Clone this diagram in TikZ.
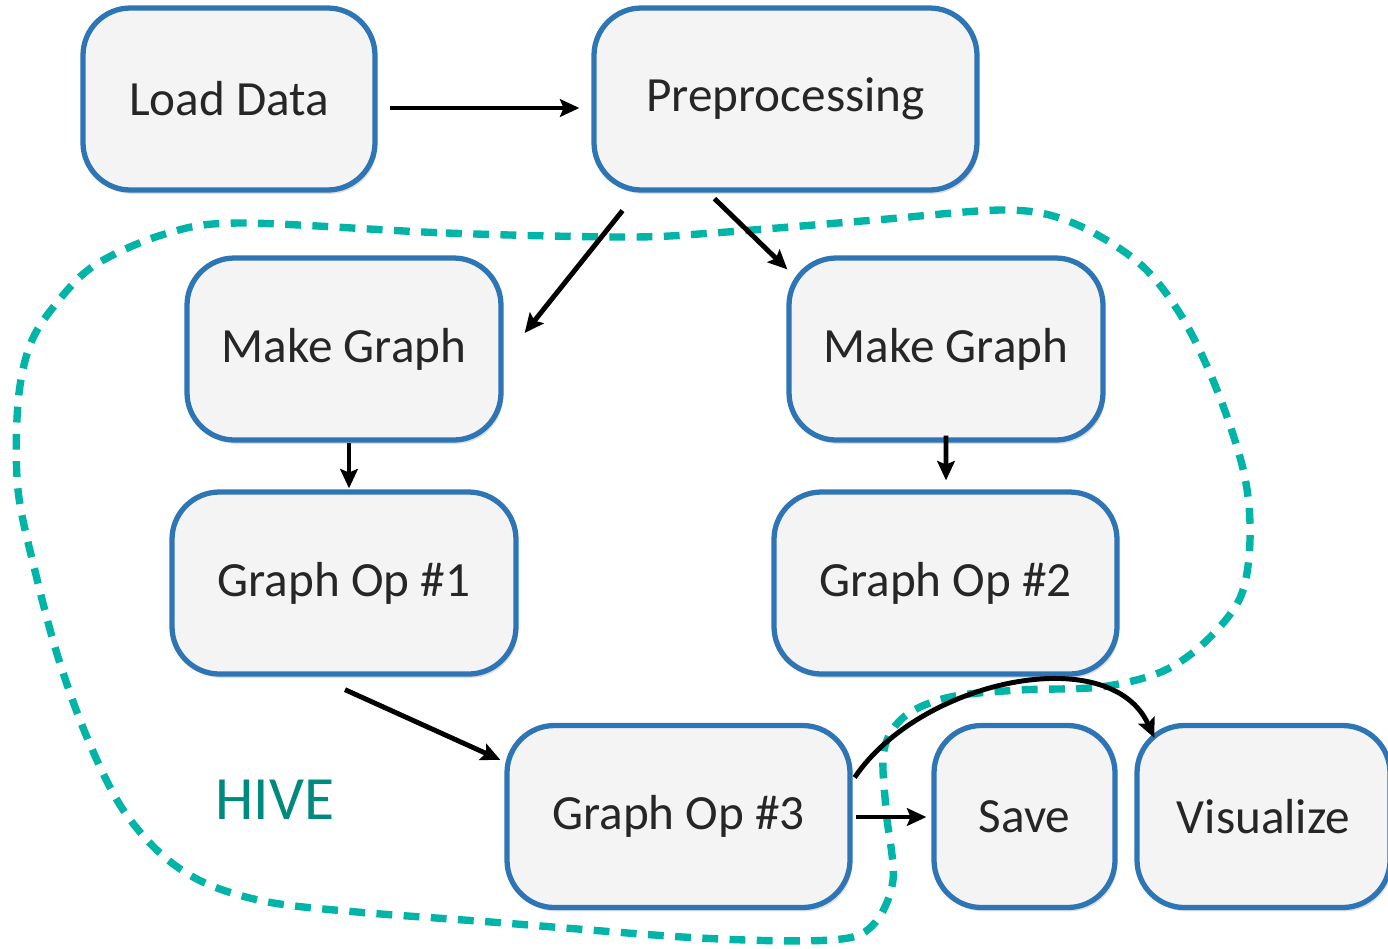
\documentclass[tikz,border=0pt]{standalone}
\usepackage{fontspec}
\setmainfont{Carlito}
\usetikzlibrary{shadows,arrows.meta,calc}
\definecolor{boxblue}{HTML}{2E75B6}
\definecolor{boxfill}{HTML}{F4F4F4}
\definecolor{hiveteal}{HTML}{00B4A8}
\definecolor{hivetext}{HTML}{00897E}
\definecolor{txt}{HTML}{262626}
\begin{document}
\begin{tikzpicture}[x=0.02cm,y=-0.02cm,
  stage/.style={draw=boxblue, line width=3pt, fill=boxfill, rounded corners=27pt,
    inner sep=0pt, minimum height=182\pgfunitx, text=txt,
    font=\fontsize{28}{34}\selectfont,
    drop shadow={opacity=0.25, shadow xshift=1.2pt, shadow yshift=-2.2pt}},
  arr/.style={draw=black, line width=2.8pt, -{Stealth[length=11pt,width=10pt,inset=2pt]}},
  hive/.style={draw=hiveteal, line width=4.2pt, dash pattern=on 9pt off 6.5pt}]
\newdimen\pgfunitx \pgfunitx=0.02cm
\useasboundingbox (0,0) rectangle (1388,948);
% HIVE region
\draw[hive] plot[smooth cycle, tension=0.55] coordinates {
 (241,223) (446,233) (625,237) (713,233) (875,220) (1007,210) (1073,223)
 (1139,263) (1182,317) (1217,390) (1244,473) (1250,540) (1240,598)
 (1204,643) (1161,672) (1100,687) (1020,690) (950,697) (905,716)
 (884,750) (886,810) (893,880) (872,926) (830,940) (700,938)
 (491,922) (357,912) (268,902) (205,883) (160,853) (120,805)
 (86,735) (58,657) (36,575) (18,490) (18,403) (30,345) (55,305) (95,265) (165,234)};
\node[text=hivetext, font=\fontsize{35}{40}\selectfont] (hivelabel) at (275,800) {HIVE};
% stages
\node[stage, minimum width=292\pgfunitx] (load) at (229,99) {Load Data};
\node[stage, minimum width=383\pgfunitx] (pre) at (785.5,99) {Preprocessing};
\node[stage, minimum width=314\pgfunitx] (mgl) at (344,349) {Make Graph};
\node[stage, minimum width=314\pgfunitx] (mgr) at (946,349) {Make Graph};
\node[stage, minimum width=344\pgfunitx] (go1) at (344,583) {Graph Op \#1};
\node[stage, minimum width=343\pgfunitx] (go2) at (945.5,583) {Graph Op \#2};
\node[stage, minimum width=343\pgfunitx] (go3) at (678.5,816.5) {Graph Op \#3};
\node[stage, minimum width=181\pgfunitx] (save) at (1024.5,816.5) {Save};
\node[stage, minimum width=253\pgfunitx] (vis) at (1263.5,816.5) {Visualize};
% connectors
\draw[arr] ([shift={(12,9)}]load.east) -- ([shift={(-12,9)}]pre.west);
\draw[arr] ([shift={(-163,18)}]pre.south) -- ([shift={(21,-16)}]mgl.east);
\draw[arr] ([shift={(-71,6)}]pre.south) -- ([shift={(1,14)}]mgr.north west);
\draw[arr] ([shift={(5,0)}]mgl.south) -- ([shift={(5,-1)}]go1.north);
\draw[arr] ([shift={(0,-7)}]mgr.south) -- ([shift={(0.5,-9)}]go2.north);
\draw[arr] ([shift={(1,13)}]go1.south) -- ([shift={(-4,37)}]go3.north west);
\draw[arr] ([shift={(3,0.5)}]go3.east) -- ([shift={(-5,0.5)}]save.west);
\draw[arr] ([shift={(2,-39)}]go3.east) .. controls (920,680) and (1110,640) .. ([shift={(20,15)}]vis.north west);
\end{tikzpicture}
\end{document}
